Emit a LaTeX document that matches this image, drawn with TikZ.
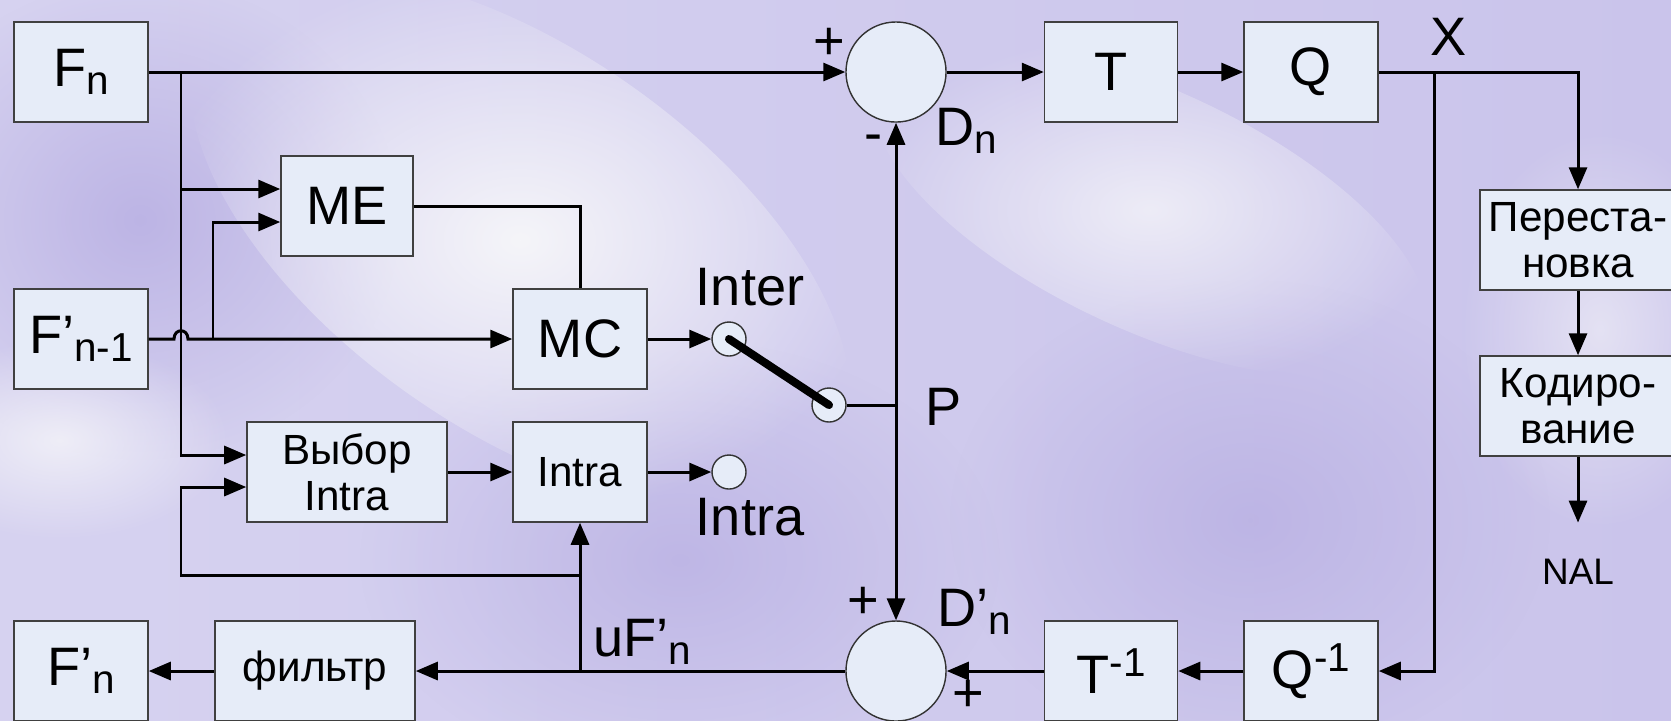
\documentclass[tikz,border=0pt]{standalone}
\usepackage{fontspec}
\setmainfont{Liberation Sans}
\usepackage{tikz}
\usetikzlibrary{arrows.meta,positioning,calc,fadings}

\definecolor{bgleft}{RGB}{214,210,240}
\definecolor{bgmid}{RGB}{208,203,237}
\definecolor{bgright}{RGB}{202,196,235}
\definecolor{bglight}{RGB}{245,245,249}
\definecolor{bgdark}{RGB}{178,168,224}
\definecolor{boxfill}{RGB}{230,236,248}

\newcommand{\bigtxt}{\fontsize{15.4}{18}\selectfont}
\newcommand{\smalltxt}{\fontsize{12}{13.2}\selectfont}
\newcommand{\lowidx}[1]{\raisebox{-2.3pt}{\fontsize{11.5}{11.5}\selectfont #1}}
\newcommand{\highidx}[1]{\raisebox{5pt}{\fontsize{11.5}{11.5}\selectfont #1}}

\tikzfading[name=softspot, inner color=transparent!0, outer color=transparent!100]

\begin{document}
\begin{tikzpicture}[x=0.01cm, y=-0.01cm,
    blk/.style={draw=black!75, line width=0.4pt, fill=boxfill, minimum width=1.34cm, minimum height=1cm, inner sep=0pt, font=\bigtxt},
    wideblk/.style={blk, minimum width=2cm, font=\smalltxt, align=center},
    summer/.style={circle, draw=black!80, line width=0.4pt, fill=boxfill, minimum size=1cm, inner sep=0pt},
    contact/.style={circle, draw=black!80, line width=0.4pt, fill=boxfill, minimum size=0.34cm, inner sep=0pt},
    wire/.style={line width=0.85pt},
    arr/.style={wire, -{Triangle[length=0.22cm, width=0.18cm]}},
    lbl/.style={font=\bigtxt, inner sep=0pt}]
    \useasboundingbox (0,0) rectangle (1671,720);
    \clip (0,0) rectangle (1671,720);

    % Background
    \shade[left color=bgleft, middle color=bgmid, right color=bgright] (0,0) rectangle (1671,720);
    \fill[bgdark, path fading=softspot, opacity=0.7] (140,220) ellipse [x radius=260, y radius=240];
    \fill[bgdark, path fading=softspot, opacity=0.6] (680,560) ellipse [x radius=320, y radius=220];
    \fill[bgdark, path fading=softspot, opacity=0.6] (1250,520) ellipse [x radius=300, y radius=240];
    \fill[bglight, path fading=softspot, rotate around={-35:(520,240)}] (520,240) ellipse [x radius=380, y radius=190];
    \fill[bglight, path fading=softspot, opacity=0.8, rotate around={-25:(1150,210)}] (1150,210) ellipse [x radius=300, y radius=120];
    \fill[bglight, path fading=softspot, opacity=0.8] (60,440) ellipse [x radius=170, y radius=100];
    \fill[bglight, path fading=softspot, opacity=0.6] (1600,330) ellipse [x radius=140, y radius=200];

    % Blocks
    \node[blk] (fn) at (81,72) {F\lowidx{n}};
    \node[blk] (fprev) at (81,339) {F’\lowidx{n-1}};
    \node[blk, minimum width=1.32cm] (me) at (347,206) {ME};
    \node[blk] (mc) at (580,339) {MC};
    \node[wideblk] (sel) at (347,472) {Выбор\\Intra};
    \node[blk, font=\smalltxt] (intra) at (580,472) {Intra};
    \node[summer] (sumtop) at (896,72) {};
    \node[blk, minimum width=1.33cm] (t) at (1111,72) {T};
    \node[blk] (q) at (1311,72) {Q};
    \node[wideblk, minimum width=1.96cm] (perm) at (1578,240) {Переста-\\новка};
    \node[wideblk, minimum width=1.96cm] (code) at (1578,406) {Кодиро-\\вание};
    \node[inner sep=0pt, font=\fontsize{10.5}{12}\selectfont] (nal) at (1578,572) {NAL};
    \node[blk] (iq) at (1311,671) {Q\highidx{-1}};
    \node[blk, minimum width=1.33cm] (it) at (1111,671) {T\highidx{-1}};
    \node[summer] (sumbot) at (896,671) {};
    \node[wideblk] (filt) at (315,671) {фильтр};
    \node[blk] (fout) at (81,671) {F’\lowidx{n}};

    % Switch
    \node[contact] (inter) at (729,339) {};
    \node[contact] (pivot) at (829,405) {};
    \node[contact] (intrac) at (729,472) {};
    \draw[line width=2.3pt, line cap=round] (inter.center) -- (pivot.center);

    % Forward path
    \coordinate (split) at (181,72);
    \coordinate (hop) at (split |- fprev.east);
    \coordinate (tapref) at (213,339);
    \draw[arr] (fn.east) -- (sumtop.west);
    \draw[arr] (split) |- ($(sel.west)+(0,-17)$);
    \draw[arr] ($(split |- me.west)+(0,-17)$) -- ($(me.west)+(0,-17)$);
    \draw[arr] (fprev.east) -- ($(hop)+(-7,0)$) .. controls ($(hop)+(-7,-11)$) and ($(hop)+(7,-11)$) .. ($(hop)+(7,0)$) -- (mc.west);
    \draw[arr] (tapref) |- ($(me.west)+(0,16)$);
    \draw[wire] (me.east) -| (mc.north);
    \draw[arr] (mc.east) -- (inter.west);
    \draw[arr] (sel.east) -- (intra.west);
    \draw[arr] (intra.east) -- (intrac.west);
    \coordinate (pjoin) at (sumtop.south |- pivot.east);
    \draw[wire] (pivot.east) -- (pjoin);
    \draw[arr] (pjoin) -- (sumtop.south);
    \draw[arr] (pjoin) -- (sumbot.north);
    \draw[arr] (sumtop.east) -- (t.west);
    \draw[arr] (t.east) -- (q.west);
    \coordinate (xsplit) at (1434,72);
    \draw[arr] (q.east) -| (perm.north);
    \draw[arr] (perm.south) -- (code.north);
    \draw[arr] (code.south) -- ($(nal.north)+(0,-36)$);

    % Reconstruction path
    \draw[arr] (xsplit) |- (iq.east);
    \draw[arr] (iq.west) -- (it.east);
    \draw[arr] (it.west) -- (sumbot.east);
    \draw[arr] (sumbot.west) -- (filt.east);
    \draw[arr] (filt.west) -- (fout.east);
    \coordinate (ufn) at (intra.south |- sumbot.west);
    \coordinate (fbk) at (580,575);
    \draw[arr] (ufn) -- (intra.south);
    \draw[arr] (fbk) -- (fbk -| split) |- ($(sel.west)+(0,15)$);

    % Labels
    \node[lbl] (plustop) at (829,44) {+};
    \node[lbl] (minustop) at (873,143) {-};
    \node[lbl, anchor=west] (dn) at (935,131) {D\lowidx{n}};
    \node[lbl] (lblinter) at (750,287) {Inter};
    \node[lbl] (lblintra) at (750,517) {Intra};
    \node[lbl, anchor=west] (lblp) at (925,407) {P};
    \node[lbl] (lblx) at (1449,37) {X};
    \node[lbl] (pluspred) at (863,603) {+};
    \node[lbl, anchor=west] (dpn) at (937,612) {D’\lowidx{n}};
    \node[lbl] (plusres) at (968,696) {+};
    \node[lbl] (lbluf) at (642,642) {uF’\lowidx{n}};
\end{tikzpicture}
\end{document}
